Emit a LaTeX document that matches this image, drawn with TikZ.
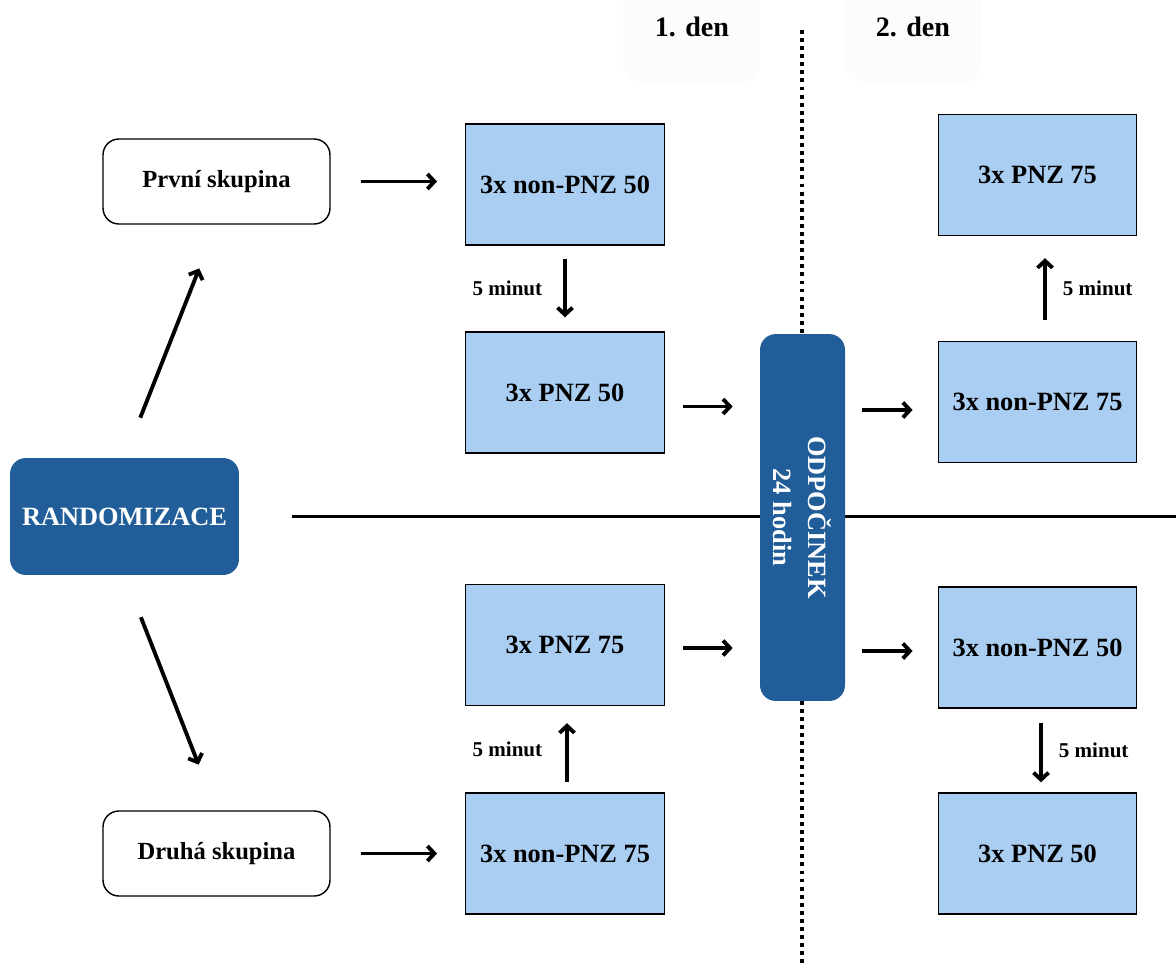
\documentclass[tikz,border=0pt]{standalone}
\usepackage{fontspec}
\setmainfont{Liberation Serif}
\usetikzlibrary{arrows.meta, positioning, calc}
\definecolor{tmava}{HTML}{215E99}
\definecolor{svetla}{HTML}{AACEF2}

\begin{document}
\begin{tikzpicture}[x=0.02cm, y=-0.02cm, >={Straight Barb[length=4pt,width=8.5pt]},
            blok/.style={rectangle, draw=black, line width=0.8pt, fill=svetla, minimum width=3.97cm, minimum height=2.42cm, font=\fontsize{15}{18}\selectfont\bfseries},
            skup/.style={rectangle, rounded corners=9pt, draw, line width=0.8pt, fill=white, minimum width=4.54cm, minimum height=1.7cm, font=\fontsize{14}{17}\selectfont\bfseries},
            tmavy/.style={rectangle, rounded corners=9pt, fill=tmava, text=white, font=\fontsize{15}{20}\selectfont\bfseries},
            sipka/.style={->, line width=2.2pt},
            popis/.style={font=\fontsize{12}{14}\selectfont\bfseries},
            den/.style={font=\fontsize{16}{19}\selectfont\bfseries}]
            \useasboundingbox (0,0) rectangle (1176,967);

            % hlavicka
            \fill [black!1, rounded corners=10pt] (623,-20) rectangle (760,82);
            \fill [black!1, rounded corners=10pt] (845,-20) rectangle (982,82);
            \node [den] at (692,27) (den1) {1. den};
            \node [den] at (913,27) (den2) {2. den};

            \node [tmavy, minimum width=4.58cm, minimum height=2.34cm] at (124.5,516.5) (rand) {RANDOMIZACE};

            \draw [line width=2.2pt, dash pattern=on 2.2pt off 2.4pt] (802,30) -- (802,965);
            \coordinate (okraj) at (1176,517);
            \draw [line width=2pt] ([xshift=1.06cm]rand.east) -- (rand.east -| okraj);

            % otoceny uzel: north je vpravo, south vlevo
            \node [tmavy, rotate=-90, align=center, minimum width=7.34cm, minimum height=1.7cm] at (802.5,517.5) (odpocinek) {ODPOČINEK\\24 hodin};

            \node [skup] at (216.5,181.5) (prvni) {První skupina};
            \node [skup] at (216.5,853.5) (druha) {Druhá skupina};

            % 1. den
            \node [blok] at (565,184.5) (a1) {3x non-PNZ 50};
            \node [blok] at (565,392.5) (a2) {3x PNZ 50};
            \node [blok] at (565,645) (b1) {3x PNZ 75};
            \node [blok] at (565,853.5) (b2) {3x non-PNZ 75};

            % 2. den
            \node [blok] at (1037.5,175) (c1) {3x PNZ 75};
            \node [blok] at (1037.5,402) (c2) {3x non-PNZ 75};
            \node [blok] at (1037.5,647.5) (d1) {3x non-PNZ 50};
            \node [blok] at (1037.5,853.5) (d2) {3x PNZ 50};

            \draw [sipka, shorten <=0.86cm, shorten >=0.94cm] (rand.north) -- (prvni.south);
            \draw [sipka, shorten <=0.9cm, shorten >=0.98cm] (rand.south) -- (druha.north);

            \draw [sipka, shorten <=0.6cm, shorten >=0.56cm] (prvni.east) -- (prvni.east -| a1.west);
            \draw [sipka, shorten <=0.6cm, shorten >=0.56cm] (druha.east) -- (b2.west);

            \draw [sipka, shorten <=0.26cm, shorten >=0.28cm] (a1.south) -- (a2.north) node [popis, midway, left=0.3cm] {5 minut};
            \draw [sipka, shorten <=0.2cm, shorten >=0.34cm] ([xshift=0.04cm]b2.north) -- ([xshift=0.04cm]b1.south) node [popis, midway, left=0.34cm] {5 minut};

            \draw [sipka, shorten <=0.36cm, shorten >=0.54cm] ([yshift=-0.28cm]a2.east) -- ([yshift=-0.28cm]a2.east -| odpocinek.south);
            \draw [sipka, shorten <=0.36cm, shorten >=0.54cm] ([yshift=-0.06cm]b1.east) -- ([yshift=-0.06cm]b1.east -| odpocinek.south);

            \draw [sipka, shorten <=0.34cm, shorten >=0.5cm] ([yshift=-0.16cm]c2.west -| odpocinek.north) -- ([yshift=-0.16cm]c2.west);
            \draw [sipka, shorten <=0.34cm, shorten >=0.5cm] ([yshift=-0.07cm]d1.west -| odpocinek.north) -- ([yshift=-0.07cm]d1.west);

            \draw [sipka, shorten <=0.42cm, shorten >=0.44cm] ([xshift=0.15cm]c2.north) -- ([xshift=0.15cm]c1.south) node [popis, midway, right=0.2cm] {5 minut};
            \draw [sipka, shorten <=0.28cm, shorten >=0.2cm] ([xshift=0.07cm]d1.south) -- ([xshift=0.07cm]d2.north) node [popis, midway, right=0.2cm] {5 minut};
\end{tikzpicture}
\end{document}
